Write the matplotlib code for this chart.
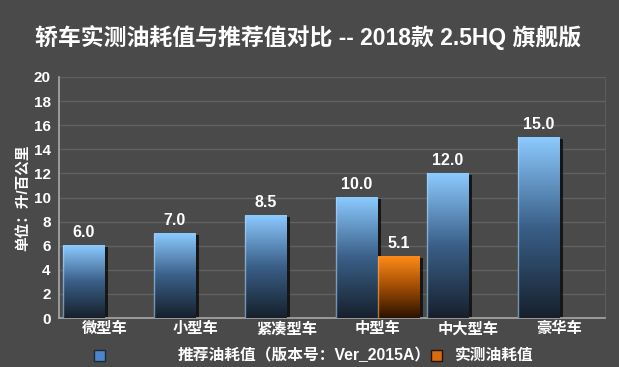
import numpy as np
import matplotlib
matplotlib.use("Agg")
import matplotlib.pyplot as plt
import matplotlib.patheffects as pe
from matplotlib.colors import LinearSegmentedColormap
from matplotlib.patches import Rectangle

plt.rcParams['font.family'] = ['Liberation Sans', 'Noto Sans CJK SC', 'DejaVu Sans']
plt.rcParams['font.weight'] = 'bold'

categories = ['微型车', '小型车', '紧凑型车', '中型车', '中大型车', '豪华车']
recommended = [6.0, 7.0, 8.5, 10.0, 12.0, 15.0]
measured = [None, None, None, 5.1, None, None]
yticks = [0, 2, 4, 6, 8, 10, 12, 14, 16, 18, 20]
title = '轿车实测油耗值与推荐值对比 -- 2018款 2.5HQ 旗舰版'
ylabel = '单位：升/百公里'
legend_rec = '推荐油耗值（版本号：Ver_2015A）'
legend_meas = '实测油耗值'

BG = '#4a4a4a'
fig = plt.figure(figsize=(6.19, 3.67), dpi=100, facecolor=BG)
ax = fig.add_axes([0.0953, 0.1335, 0.8821, 0.6567], facecolor=BG)

blue_cmap = LinearSegmentedColormap.from_list('b', ['#16202c', '#3a5f88', '#8ccaff'])
orange_cmap = LinearSegmentedColormap.from_list('o', ['#2a1200', '#a04c04', '#ff8c18'])

x = np.arange(len(categories))
w = 0.46

def grad_bar(xc, h, cmap, edge):
    r = ax.bar(xc, h, w, color='#111111', zorder=2,
               path_effects=[pe.SimplePatchShadow(offset=(2.5, -1), shadow_rgbFace='#000000', alpha=0.7), pe.Normal()])[0]
    x0 = r.get_x()
    grad = np.linspace(0, 1, 256).reshape(-1, 1)
    ax.imshow(grad, extent=(x0, x0 + r.get_width(), 0, h), origin='lower', cmap=cmap,
              aspect='auto', zorder=3, interpolation='bicubic')
    ax.plot([x0 + 0.008, x0 + 0.008], [0, h], color=edge, lw=1, alpha=0.6, zorder=4)
    ax.annotate(f'{h:.1f}', (xc, h), xytext=(0, 4), textcoords='offset points',
                ha='center', va='bottom', color='white', fontsize=11.5, fontweight='bold', zorder=5)

for i in range(len(categories)):
    grad_bar(x[i] - w / 2, recommended[i], blue_cmap, '#b0d8ff')
    if measured[i] is not None:
        grad_bar(x[i] + w / 2, measured[i], orange_cmap, '#ffb060')

ax.set_xlim(-0.5, len(categories) - 0.5)
ax.set_ylim(0, 20)
ax.set_yticks(yticks)
ax.set_xticks(x)
ax.set_xticklabels(categories)
ax.yaxis.grid(True, color='#606060', lw=1)
ax.set_axisbelow(True)
ax.tick_params(axis='both', colors='white', length=0, labelsize=11, pad=6)
ax.tick_params(axis='x', pad=3)
for lab in ax.get_xticklabels() + ax.get_yticklabels():
    lab.set_fontweight('bold')
for s in ['left', 'bottom']:
    ax.spines[s].set_color('#a8a8a8')
    ax.spines[s].set_linewidth(1.2)
for s in ['right', 'top']:
    ax.spines[s].set_color('#5c5c5c')
ax.spines['top'].set_visible(False)

ax.set_ylabel(ylabel, color='white', fontsize=10.5, fontweight='heavy', labelpad=3)

fig.text(0.497, 0.899, title, ha='center', va='center', color='white', fontsize=16.5, fontweight='heavy')

# legend
fig.patches.append(Rectangle((94 / 619, 1 - 361 / 367), 11 / 619, 11 / 367, transform=fig.transFigure,
                             facecolor='#4d86c8', edgecolor='#1a2a3a', lw=1))
fig.patches.append(Rectangle((431 / 619, 1 - 361 / 367), 11 / 619, 11 / 367, transform=fig.transFigure,
                             facecolor='#d86a10', edgecolor='#2a1200', lw=1))
fig.text(178 / 619, 1 - 355 / 367, legend_rec, ha='left', va='center', color='white', fontsize=11.3, fontweight='heavy')
fig.text(455 / 619, 1 - 355 / 367, legend_meas, ha='left', va='center', color='white', fontsize=11.3, fontweight='heavy')

fig.savefig('out.png', dpi=100, facecolor=BG)
